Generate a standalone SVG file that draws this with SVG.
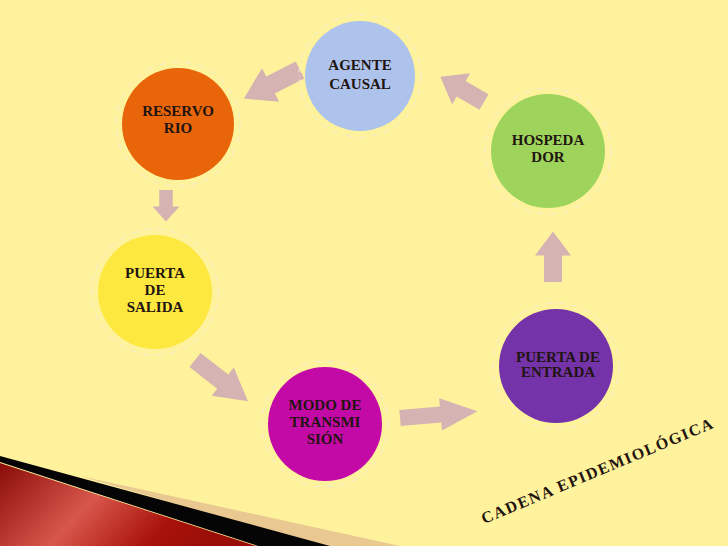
<svg xmlns="http://www.w3.org/2000/svg" width="728" height="546" viewBox="0 0 728 546">
<defs>
<linearGradient id="red" x1="0" y1="0" x2="1" y2="0.3">
<stop offset="0" stop-color="#8a0c08"/><stop offset="0.45" stop-color="#d8574c"/><stop offset="0.8" stop-color="#a8120a"/><stop offset="1" stop-color="#9a0e08"/>
</linearGradient>
<path id="arr" d="M0,-9 L22,-9 L22,-18 L42,0 L22,18 L22,9 L0,9 Z"/>
</defs>
<style>
.ring{fill:none;stroke:#f4ead0;stroke-width:1;stroke-dasharray:6 3 1 3}
.t{font-family:"Liberation Serif",serif;font-weight:bold;font-size:15px;fill:#1f1410;text-anchor:middle}
.a{fill:#d6b3b3}
</style>
<rect width="728" height="546" fill="#fff29d"/>
<polygon points="80,476 400,546 320,546" fill="#e9c991"/>
<polygon points="0,456 0,462 258,546 330,546" fill="#050505"/>
<polygon points="0,463 0,546 256,546" fill="url(#red)"/>
<g id="connectors">
<use href="#arr" class="a" transform="translate(300,70) rotate(153) scale(1.5,1.05)"/>
<use href="#arr" class="a" transform="translate(166,190) rotate(90) scale(0.75)"/>
<use href="#arr" class="a" transform="translate(195,360) rotate(38) scale(1.6,1)"/>
<use href="#arr" class="a" transform="translate(400,418) rotate(-5) scale(1.85,0.9)"/>
<use href="#arr" class="a" transform="translate(553,282) rotate(-90) scale(1.2,1)"/>
<use href="#arr" class="a" transform="translate(484,102) rotate(-150) scale(1.2,1)"/>
</g>
<g id="agente"><circle cx="360" cy="76" r="61" class="ring"/><circle cx="360" cy="76" r="55" fill="#aec3ec"/>
<text class="t" x="360" y="70" font-size="16">AGENTE</text><text class="t" x="360" y="89" font-size="16">CAUSAL</text></g>
<g id="reservorio"><circle cx="178" cy="124" r="62" class="ring"/><circle cx="178" cy="124" r="56" fill="#e8650a"/>
<text class="t" x="178" y="116">RESERVO</text><text class="t" x="178" y="133">RIO</text></g>
<g id="hospedador"><circle cx="548" cy="151" r="63" class="ring"/><circle cx="548" cy="151" r="57" fill="#9ed45c"/>
<text class="t" x="548" y="145">HOSPEDA</text><text class="t" x="548" y="162">DOR</text></g>
<g id="salida"><circle cx="155" cy="292" r="63" class="ring"/><circle cx="155" cy="292" r="57" fill="#fde840"/>
<text class="t" x="155" y="278">PUERTA</text><text class="t" x="155" y="295">DE</text><text class="t" x="155" y="312">SALIDA</text></g>
<g id="entrada"><circle cx="556" cy="366" r="63" class="ring"/><circle cx="556" cy="366" r="57" fill="#7433a8"/>
<text class="t" x="558" y="362" font-size="13">PUERTA DE</text><text class="t" x="558" y="377" font-size="13">ENTRADA</text></g>
<g id="modo"><circle cx="325" cy="424" r="63" class="ring"/><circle cx="325" cy="424" r="57" fill="#c40aa6"/>
<text class="t" x="325" y="410">MODO DE</text><text class="t" x="325" y="427">TRANSMI</text><text class="t" x="325" y="444">SIÓN</text></g>
<text x="484" y="524" transform="rotate(-22.7 484 524)" style="font-family:'Liberation Serif',serif;font-weight:bold;font-size:16px;fill:#1f1410;letter-spacing:1.5px">CADENA EPIDEMIOLÓGICA</text>
</svg>
